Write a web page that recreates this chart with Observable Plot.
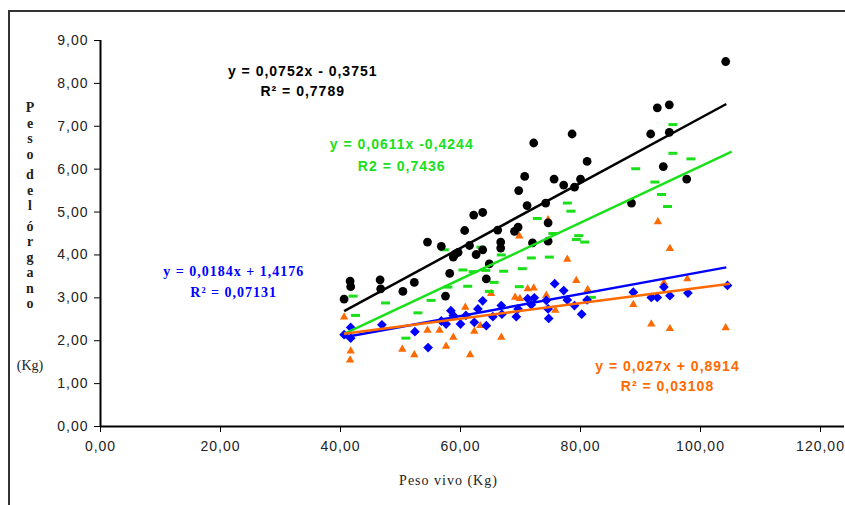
<!DOCTYPE html>
<html>
<head>
<meta charset="utf-8">
<script src="https://cdn.jsdelivr.net/npm/d3@7"></script>
<script src="https://cdn.jsdelivr.net/npm/@observablehq/plot@0.6"></script>
<style>
  html, body { margin: 0; padding: 0; background: #fff; }
  #wrap { position: relative; width: 845px; height: 505px; overflow: hidden; background: #fff; }
  #frame { position: absolute; left: 8px; top: 10px; width: 900px; height: 600px;
           border-left: 2px solid #333; border-top: 2px solid #333; pointer-events: none; }
  #chart { position: absolute; left: 0; top: 0; }
  #chart svg text { letter-spacing: 1px; }
  #ylab { position: absolute; left: 0; top: 0; font-family: "Liberation Serif", "Times New Roman", serif;
          font-weight: bold; font-size: 14px; color: #222; }
  #ylab span { position: absolute; width: 40px; text-align: center; line-height: 14px; }
</style>
</head>
<body>
<div id="wrap">
  <div id="chart"></div>
  <div id="ylab"></div>
  <div id="frame"></div>
</div>
<script>
// ---- data ----
const xTicks = [0, 20, 40, 60, 80, 100, 120];
const yTicks = [0, 1, 2, 3, 4, 5, 6, 7, 8, 9];
const xTitle = "Peso vivo (Kg)";
const yTitleLetters = ["P","e","s","o","","d","e","l","","ó","r","g","a","n","o"];
const yTitleUnit = "(Kg)";

const blackX = [40.6,41.6,41.7,46.6,46.7,50.4,52.3,54.5,56.8,57.5,58.2,58.8,59.1,59.6,60.7,61.5,62.2,63.7,62.6,63.7,64.3,64.8,66.2,66.7,66.7,69.0,69.6,69.7,70.7,71.1,72.0,72.2,74.2,74.6,74.6,75.6,77.2,78.6,79.0,80.0,81.1,88.5,91.7,92.8,93.8,94.8,94.8,97.7,104.2];
const blackY = [2.97,3.39,3.26,3.42,3.21,3.15,3.36,4.30,4.20,3.04,3.57,3.95,4.02,4.06,4.57,4.22,4.93,4.99,4.01,4.12,3.44,3.79,4.58,4.30,4.16,4.55,4.65,5.50,5.83,5.15,4.28,6.61,5.21,4.75,4.32,5.77,5.63,6.82,5.58,5.77,6.18,5.21,6.82,7.43,6.06,7.50,6.86,5.77,8.51];

const greenX = [42.1,42.5,47.5,50.9,52.9,55.1,57.3,57.9,60.4,61.2,62.1,63.4,64.2,64.8,65.6,66.8,67.2,69.8,70.3,71.8,72.8,74.8,75.4,77.8,78.4,79.3,79.7,80.7,81.8,89.2,92.4,93.5,94.5,95.4,95.4,98.4];
const greenY = [3.04,2.59,2.88,2.06,2.65,2.94,4.12,3.25,3.65,3.27,3.61,4.18,3.64,3.15,3.36,4.00,3.62,3.26,3.68,3.93,4.85,3.95,4.50,5.21,5.02,4.36,4.45,4.30,3.01,6.01,5.70,5.41,5.13,7.04,6.37,6.24];

const blueX = [40.6,41.7,41.7,46.9,52.4,54.6,56.8,57.6,58.4,58.8,60.0,60.9,62.3,62.9,63.7,64.3,65.4,66.8,66.9,69.3,69.6,71.2,71.8,72.3,74.3,74.6,74.7,75.7,77.2,77.8,79.0,80.2,81.1,88.8,91.8,92.8,93.9,94.9,97.9,104.5];
const blueY = [2.14,2.31,2.06,2.37,2.21,1.84,2.46,2.39,2.70,2.59,2.39,2.59,2.43,2.74,2.93,2.35,2.56,2.82,2.62,2.56,2.74,2.98,2.84,3.00,2.94,2.74,2.52,3.33,3.17,2.95,2.82,2.62,2.95,3.13,3.01,3.01,3.25,3.05,3.11,3.29];

const orangeX = [40.6,41.7,41.6,50.3,52.3,54.5,56.5,57.6,58.8,60.8,61.6,62.3,63.3,65.1,66.8,69.1,69.9,69.8,71.2,72.2,74.3,74.6,75.8,77.8,79.3,81.2,88.8,91.8,92.9,93.9,94.9,94.9,97.8,104.2];
const orangeY = [2.55,1.76,1.55,1.80,1.67,2.24,2.24,1.87,2.08,2.78,1.67,2.22,2.35,3.10,2.08,3.01,2.98,4.44,3.21,3.23,3.06,4.82,2.71,3.90,3.40,3.19,2.84,2.39,4.77,3.35,4.15,2.28,3.44,2.30];

// trend lines as drawn (start and end points)
const trendSeries = ["black", "green", "blue", "orange"];
const trendX1 = [40.6, 40.6, 40.6, 40.6];
const trendY1 = [2.69, 2.16, 2.08, 2.16];
const trendX2 = [104.3, 105.2, 104.3, 104.9];
const trendY2 = [7.52, 6.41, 3.71, 3.33];

// equation labels
const eqLines = ["y = 0,0752x - 0,3751", "y = 0,0611x -0,4244", "y = 0,0184x + 1,4176", "y = 0,027x + 0,8914"];
const r2Lines = ["R² = 0,7789", "R2 = 0,7436", "R² = 0,07131", "R² = 0,03108"];

// ---- styling (not data) ----
const colors = {black: "#000000", green: "#19e019", blue: "#0000ff", orange: "#ff6a00"};
const eqPos = [ // anchor positions in data units
  {x: 33.7, y: 8.28, r: 7.82},
  {x: 50.2, y: 6.58, r: 6.07},
  {x: 22.2, y: 3.62, r: 3.13},
  {x: 94.5, y: 1.40, r: 0.93}
];
const eqFont = ["Liberation Sans, Arial, sans-serif", "Liberation Sans, Arial, sans-serif",
                "Liberation Serif, Times New Roman, serif", "Liberation Sans, Arial, sans-serif"];

const fmt = d => d.toFixed(2).replace(".", ",");
const pts = (xs, ys) => xs.map((x, i) => ({x, y: ys[i]}));

const dash = { draw(ctx) { ctx.rect(-4.5, -1.5, 9, 3); } };

const trends = trendSeries.map((s, i) => ({s, x1: trendX1[i], y1: trendY1[i], x2: trendX2[i], y2: trendY2[i]}));
const labels = trendSeries.map((s, i) => ({s, eq: eqLines[i], r2: r2Lines[i], ...eqPos[i], font: eqFont[i]}));

const marks = [
  Plot.ruleX([0], {y1: 0, y2: 9, stroke: "#000", strokeWidth: 2}),
  Plot.ruleY([0], {x1: 0, x2: 124, stroke: "#000", strokeWidth: 2}),
  Plot.axisX({ticks: xTicks, tickFormat: fmt, tickSize: 6, tickPadding: 9, label: null,
              fontSize: 14, fill: "#222", stroke: "#000"}),
  Plot.axisY({ticks: yTicks, tickFormat: fmt, tickSize: 6, tickPadding: 6, label: null,
              fontSize: 14, fill: "#222", stroke: "#000"}),
  Plot.dot(pts(orangeX, orangeY), {x: "x", y: "y", symbol: "triangle", r: 3.1, fill: colors.orange}),
  Plot.dot(pts(greenX, greenY), {x: "x", y: "y", symbol: dash, r: 3, fill: colors.green}),
  Plot.dot(pts(blueX, blueY), {x: "x", y: "y", symbol: "diamond2", r: 4.4, fill: colors.blue}),
  Plot.dot(pts(blackX, blackY), {x: "x", y: "y", r: 4.4, fill: colors.black}),
  ...["black", "green", "blue", "orange"].map(s =>
    Plot.link(trends.filter(d => d.s === s), {x1: "x1", y1: "y1", x2: "x2", y2: "y2",
      stroke: colors[s], strokeWidth: 2.5})),
  ...labels.map(d => Plot.text([d], {x: "x", y: "y", text: "eq", fill: colors[d.s],
      fontSize: 14, fontWeight: "bold", fontFamily: d.font})),
  ...labels.map(d => Plot.text([d], {x: "x", y: "r", text: "r2", fill: colors[d.s],
      fontSize: 14, fontWeight: "bold", fontFamily: d.font})),
  Plot.text([xTitle], {x: 58, y: -1.27, text: d => d, fontSize: 14, fill: "#222",
      fontFamily: "Liberation Serif, Times New Roman, serif"})
];

const chart = Plot.plot({
  width: 845, height: 505,
  marginLeft: 100, marginRight: 1, marginTop: 40, marginBottom: 79,
  x: {domain: [0, 124]},
  y: {domain: [0, 9]},
  style: {fontFamily: "Liberation Sans, Arial, sans-serif", fontSize: "14px", background: "transparent", overflow: "visible"},
  marks
});
document.getElementById("chart").appendChild(chart);

// stacked vertical y title
const ylab = document.getElementById("ylab");
let letterTop = 101;
yTitleLetters.forEach(ch => {
  if (ch === "") { letterTop += 5; return; }
  const s = document.createElement("span");
  s.textContent = ch; s.style.left = "10px"; s.style.top = letterTop + "px";
  ylab.appendChild(s); letterTop += 15.5;
});
const u = document.createElement("span");
u.textContent = yTitleUnit; u.style.left = "10px"; u.style.top = "359px"; u.style.fontWeight = "normal";
ylab.appendChild(u);
</script>
</body>
</html>
